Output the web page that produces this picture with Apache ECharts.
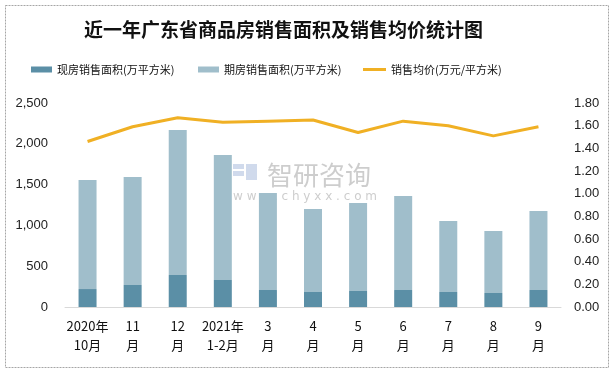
<!DOCTYPE html>
<html><head><meta charset="utf-8">
<script src="https://cdn.jsdelivr.net/npm/echarts@6/dist/echarts.min.js"></script>
<style>html,body{margin:0;padding:0;background:#fff}#c{width:613px;height:370px}</style>
</head><body><div id="c"></div>
<script>
const categories = ["2020年\n10月","11\n月","12\n月","2021年\n1-2月","3\n月","4\n月","5\n月","6\n月","7\n月","8\n月","9\n月"];
const spotArea = [220, 270, 392, 331, 208, 184, 196, 208, 184, 172, 208];
const futureArea = [1336, 1323, 1777, 1532, 1189, 1017, 1079, 1152, 870, 759, 968];
const avgPrice = [1.46, 1.59, 1.67, 1.63, 1.64, 1.65, 1.54, 1.64, 1.60, 1.51, 1.59];
const names = ["现房销售面积(万平方米)", "期房销售面积(万平方米)", "销售均价(万元/平方米)"];

const cjk = '"Noto Sans CJK SC", sans-serif';
const num = '"Liberation Sans", "DejaVu Sans", sans-serif';
const chart = echarts.init(document.getElementById('c'));
const legendText = {fontSize: 11, color: '#111', fontFamily: cjk};
chart.setOption({
  animation: false,
  title: {text: '近一年广东省商品房销售面积及销售均价统计图', left: 79, top: 15,
    textStyle: {fontSize: 19, fontWeight: 'bold', color: '#111', fontFamily: cjk}},
  legend: [
    {data: [names[0]], left: 26, top: 59, itemWidth: 21, itemHeight: 6, icon: 'rect', textStyle: legendText},
    {data: [names[1]], left: 193, top: 59, itemWidth: 21, itemHeight: 6, icon: 'rect', textStyle: legendText},
    {data: [names[2]], left: 358, top: 59, itemWidth: 23, itemHeight: 3, icon: 'rect', textStyle: legendText}
  ],
  grid: {left: 65, right: 52, top: 103, bottom: 63},
  xAxis: {type: 'category', data: categories,
    axisLine: {lineStyle: {color: '#D9D9D9', width: 1}}, axisTick: {show: false},
    axisLabel: {interval: 0, color: '#111', fontSize: 13, lineHeight: 19, margin: 10, fontFamily: cjk}},
  yAxis: [
    {type: 'value', min: 0, max: 2500, interval: 500, splitLine: {show: false},
     axisLine: {show: false}, axisTick: {show: false},
     axisLabel: {color: '#222', fontSize: 13, margin: 17, fontFamily: num,
       formatter: v => v.toLocaleString('en-US')}},
    {type: 'value', min: 0, max: 1.8, interval: 0.2, splitLine: {show: false},
     axisLine: {show: false}, axisTick: {show: false},
     axisLabel: {color: '#222', fontSize: 13, margin: 13, fontFamily: num,
       formatter: v => v.toFixed(2)}}
  ],
  series: [
    {name: names[0], type: 'bar', stack: 'a', data: spotArea, barWidth: 18,
     itemStyle: {color: '#5B8FA6'}},
    {name: names[1], type: 'bar', stack: 'a', data: futureArea, barWidth: 18,
     itemStyle: {color: '#A0BECB'}},
    {name: names[2], type: 'line', yAxisIndex: 1, data: avgPrice, symbol: 'none',
     lineStyle: {color: '#F0B024', width: 3}, itemStyle: {color: '#F0B024'}}
  ],
  graphic: [
    {type: 'rect', left: 3, top: 3, shape: {width: 603, height: 362},
     style: {fill: 'none', stroke: '#A6A6A6', lineWidth: 1, lineDash: [2, 1]}, silent: true},
    {type: 'group', left: 233, top: 162, z: 100, children: [
      {type: 'rect', shape: {x: 0, y: 2, width: 11, height: 5}, style: {fill: 'rgba(120,150,200,0.35)'}},
      {type: 'rect', shape: {x: 0, y: 9, width: 11, height: 5}, style: {fill: 'rgba(120,150,200,0.35)'}},
      {type: 'rect', shape: {x: 13, y: 2, width: 11, height: 16}, style: {fill: 'rgba(120,150,200,0.35)'}},
      {type: 'text', style: {x: 34, y: 0, text: '智研咨询', font: '26px "Noto Sans CJK SC"', fill: 'rgba(130,130,130,0.4)'}},
      {type: 'text', style: {x: 0, y: 29, text: 'w w w . c h y x x . c o m', font: '12px "DejaVu Sans"', fill: 'rgba(130,130,130,0.4)'}}
    ]}
  ]
});
</script></body></html>
